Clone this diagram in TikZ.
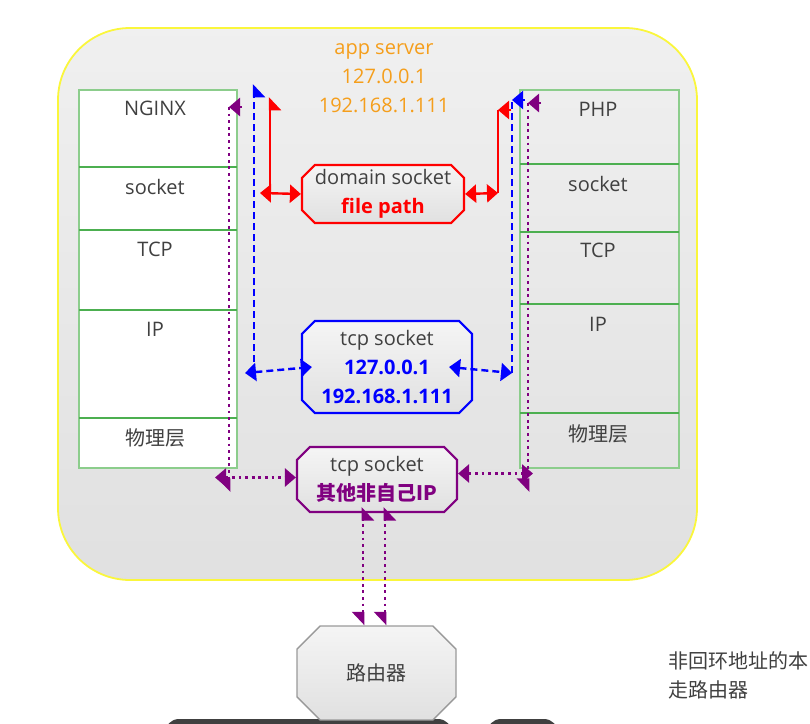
\documentclass[tikz,border=0pt]{standalone}
\usepackage{fontspec}
\setmainfont{Open Sans}
\newfontfamily\cjk{Noto Sans CJK SC}
\usetikzlibrary{arrows.meta,shapes.misc}

\definecolor{txtgray}{RGB}{64,64,64}
\definecolor{srvorange}{RGB}{245,158,27}
\definecolor{sockpurple}{RGB}{128,0,128}
\definecolor{layergreen}{RGB}{76,175,80}
\definecolor{layeredge}{RGB}{140,205,140}
\definecolor{boxyellow}{RGB}{250,246,60}
\definecolor{darkbar}{RGB}{64,64,64}

\tikzset{
  hp/.tip={Triangle[harpoon,swap,length=12pt,width=22pt]},
  tri/.tip={Triangle[length=11pt,width=18pt]},
  txt/.style={font=\fontsize{20}{29}\selectfont, text=txtgray, inner sep=0pt, align=center},
  cjktxt/.style={txt, font=\cjk\fontsize{20}{29}\selectfont},
  sockbox/.style={txt, chamfered rectangle, line width=2.2pt,
    top color=white!96!black, bottom color=white!88!black},
  redln/.style={red, line width=2.4pt},
  blueln/.style={blue, line width=2.4pt, dash pattern=on 7pt off 4pt},
  pdot/.style={sockpurple, line width=2.8pt, dash pattern=on 2.8pt off 3.8pt},
  layerline/.style={layergreen, line width=1.8pt},
}

\begin{document}
\begin{tikzpicture}[x=1pt,y=-1pt]
  \useasboundingbox (0,0) rectangle (810,723);
  % app server box
  \draw[boxyellow, line width=1.8pt, rounded corners=72pt,
    top color=white!94!black, bottom color=white!88!black] (58,28) rectangle (697,580);
  \node[txt, text=srvorange] (srv) at (384,78) {app server\\127.0.0.1\\192.168.1.111};

  % NGINX stack
  \draw[layeredge, line width=1.8pt, fill=white] (79,90) rectangle (237,468);
  \draw[layerline] (79,167) -- (237,167);
  \draw[layerline] (79,230) -- (237,230);
  \draw[layerline] (79,310) -- (237,310);
  \draw[layerline] (79,418) -- (237,418);
  \node[txt] (nginx) at (155,108) {NGINX};
  \node[txt] (lsock) at (155,187) {socket};
  \node[txt] (ltcp) at (155,249) {TCP};
  \node[txt] (lip) at (155,329) {IP};
  \node[cjktxt] (lphy) at (155,438) {物理层};

  % PHP stack
  \draw[layeredge, line width=1.8pt] (520,90) rectangle (679,468);
  \draw[layerline] (520,164) -- (679,164);
  \draw[layerline] (520,232) -- (679,232);
  \draw[layerline] (520,304) -- (679,304);
  \draw[layerline] (520,413) -- (679,413);
  \node[txt] (php) at (598,109) {PHP};
  \node[txt] (rsock) at (598,184) {socket};
  \node[txt] (rtcp) at (598,250) {TCP};
  \node[txt] (rip) at (598,324) {IP};
  \node[cjktxt] (rphy) at (598,434) {物理层};

  % sockets
  \node[sockbox, draw=red, chamfered rectangle xsep=9pt, chamfered rectangle ysep=9pt,
    minimum width=162pt, minimum height=58pt,
    label={[txt]center:{domain socket\\\textcolor{red}{\bfseries file path}}}] (dom) at (383,194) {\phantom{X}};
  \node[sockbox, draw=blue, chamfered rectangle xsep=12pt, chamfered rectangle ysep=12pt,
    minimum width=170pt, minimum height=92pt,
    label={[txt]center:{tcp socket\\\textcolor{blue}{\bfseries 127.0.0.1}\\\textcolor{blue}{\bfseries 192.168.1.111}}}] (tcp) at (387,367) {\phantom{X}};
  \node[sockbox, draw=sockpurple, chamfered rectangle xsep=10pt, chamfered rectangle ysep=10pt,
    minimum width=160pt, minimum height=65pt,
    label={[txt]center:{tcp socket\\\textcolor{sockpurple}{\cjk\bfseries 其他非自己IP}}}] (psock) at (377,479.5) {\phantom{X}};

  % router
  \fill[darkbar, rounded corners=14pt] (165,719) rectangle (452,760);
  \fill[darkbar, rounded corners=14pt] (487,719) rectangle (558,760);
  \node[sockbox, cjktxt, draw=black!40, line width=1.4pt, chamfered rectangle xsep=14pt,
    chamfered rectangle ysep=14pt, minimum width=159pt, minimum height=94pt] (router) at (376.5,673) {路由器};
  \node[cjktxt, anchor=west, align=left] (note) at (668,675) {非回环地址的本\\走路由器};

  % end points at the stacks
  \coordinate (ngxR) at (270,97);
  \coordinate (ngxRc) at (270,193);
  \coordinate (ngxB) at (254,84);
  \coordinate (ngxBc) at (254,373);
  \coordinate (ngxP) at (229,107);
  \coordinate (ngxPb) at (229,492);
  \coordinate (phpR) at (498,110);
  \coordinate (phpRc) at (498,193);
  \coordinate (phpB) at (512,100);
  \coordinate (phpBc) at (512,373);
  \coordinate (phpP) at (528,103);
  \coordinate (phpPb) at (528,492);

  % domain socket
  \draw[redln,-hp] (ngxRc) -- (ngxR);
  \draw[redln,tri-tri] ([xshift=-10pt]ngxRc) -- (dom.west);
  \draw[redln,tri-tri] (dom.east) -- (phpRc);
  \draw[redln] (phpRc) -- (phpR);
  \draw[redln,-tri] ([xshift=13pt]phpR) -- (phpR);

  % tcp socket
  \draw[blueln,-hp] (ngxBc) -- (ngxB);
  \draw[blueln,tri-tri] ([xshift=-9pt]ngxBc) -- ([xshift=11pt]tcp.west);
  \draw[blueln,tri-tri] ([xshift=-24pt]tcp.east) -- (phpBc);
  \draw[blueln] (phpBc) -- (phpB);
  \draw[blueln,-tri] ([xshift=13pt]phpB) -- (phpB);

  % other ip
  \draw[pdot,-hp] (ngxP) -- (ngxPb);
  \draw[pdot,-tri] ([xshift=13pt]ngxP) -- (ngxP);
  \draw[pdot,tri-tri] ([xshift=-14pt,yshift=2pt]ngxPb |- psock.west) -- ([yshift=2pt]psock.west);
  \draw[pdot,-hp] (phpP) -- (phpPb);
  \draw[pdot,-tri] ([xshift=13pt]phpP) -- (phpP);
  \draw[pdot,tri-tri] ([yshift=6pt]psock.east) -- ([xshift=5pt,yshift=6pt]phpPb |- psock.east);
  \draw[pdot,hp-hp] ([xshift=-14pt,yshift=6pt]psock.south) -- ([xshift=-14pt]psock.south |- router.north);
  \draw[pdot,hp-hp] ([xshift=8pt,yshift=6pt]psock.south) -- ([xshift=8pt]psock.south |- router.north);
\end{tikzpicture}
\end{document}
